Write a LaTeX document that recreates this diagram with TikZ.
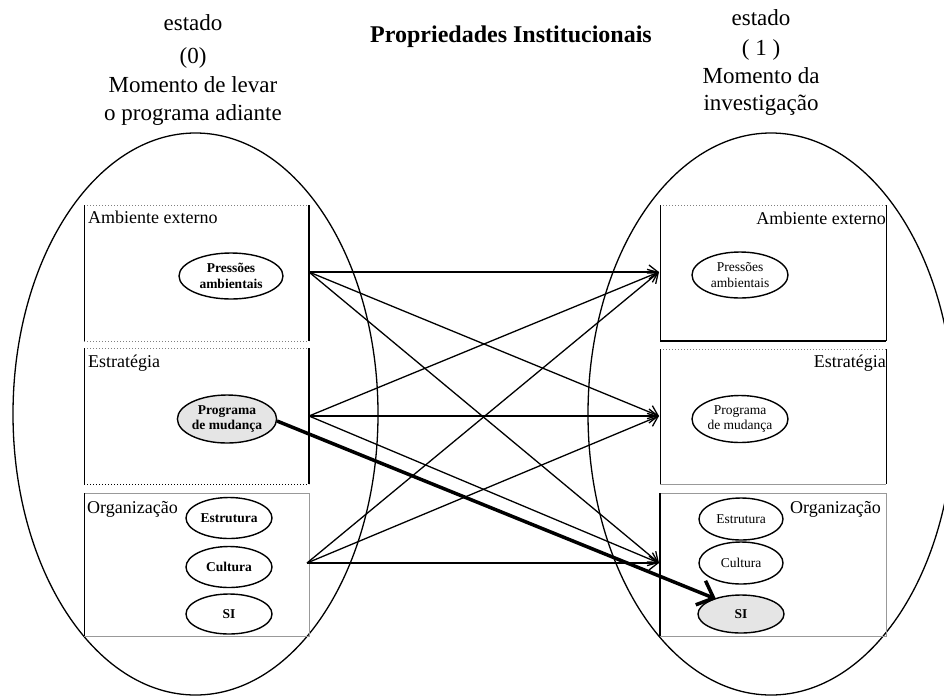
\documentclass[tikz,border=0pt]{standalone}
\usepackage{fontspec}
\setmainfont{Liberation Serif}
\usetikzlibrary{shapes.geometric,arrows.meta}
\begin{document}
\begin{tikzpicture}[x=1pt,y=-1pt,
  big/.style={draw,line width=1.3pt},
  sm/.style={draw,ellipse,line width=1.4pt,inner sep=0pt,align=center,font=\fontsize{13.5}{15.5}\selectfont},
  smb/.style={sm,font=\bfseries\fontsize{13.5}{15.5}\selectfont},
  lbl/.style={font=\fontsize{18}{20}\selectfont,inner sep=0pt},
  head/.style={font=\fontsize{23}{28}\selectfont,inner sep=0pt,anchor=base},
  dotg/.style={draw=gray,dotted,line width=1pt},
  thinb/.style={draw=black,line width=0.8pt},
  thinb2/.style={draw=gray!80,line width=0.8pt},
  thick3/.style={draw=black,line width=2.5pt},
  arr/.style={line width=1.3pt,-{Straight Barb[length=9pt,width=14pt,line width=1.3pt]}},
  bigarr/.style={line width=3.5pt,-{Straight Barb[length=14pt,width=26pt,line width=3.5pt]}}
]
\useasboundingbox (0,0) rectangle (944,697);
\fill[white] (0,0) rectangle (944,697);
% big ellipses
\draw[big] (195.5,414) ellipse [x radius=182.5, y radius=281];
\begin{scope}
\clip (0,0) rectangle (944,697);
\draw[big] (771,414) ellipse [x radius=183, y radius=281];
\end{scope}
% headings
\node[head] (hl1) at (193,30) {estado};
\node[head] (hl2) at (193,63) {(0)};
\node[head] (hl3) at (193,92) {Momento de levar};
\node[head] (hl4) at (193,120) {o programa adiante};
\node[head] (hr1) at (761,25) {estado};
\node[head] (hr2) at (761,55) {( 1 )};
\node[head] (hr3) at (761,83) {Momento da};
\node[head] (hr4) at (761,110) {investigação};
\node[font=\bfseries\fontsize{24}{28}\selectfont,inner sep=0pt,anchor=base] (title) at (511,42) {Propriedades Institucionais};
% left boxes
\draw[dotg] (84,205) -- (309,205);
\draw[thinb] (84,205) -- (84,341);
\draw[thick3] (309,205) -- (309,341);
\draw[dotg] (84,341) -- (309,341);
\draw[dotg] (84,348) -- (309,348);
\draw[thinb] (84,348) -- (84,484);
\draw[thick3] (309,348) -- (309,484);
\draw[draw=black,dotted,line width=1pt] (84,484) -- (309,484);
\draw[thinb2] (84,493) -- (309,493) -- (309,636) -- (84,636);
\draw[thinb] (84,493) -- (84,636);
% right boxes
\draw[dotg] (660,205) -- (886,205);
\draw[thinb] (660,205) -- (660,341);
\draw[thinb] (886,205) -- (886,341);
\draw[thick3] (660,341) -- (886,341);
\draw[dotg] (660,349) -- (886,349);
\draw[thinb] (660,349) -- (660,484);
\draw[thinb] (886,349) -- (886,484);
\draw[thinb2] (660,484) -- (886,484);
\draw[thinb2] (660,493) -- (886,493) -- (886,636) -- (660,636);
\draw[thick3] (660,493) -- (660,636);
% box labels
\node[lbl,anchor=west] (la) at (88,217) {Ambiente externo};
\node[lbl,anchor=west] (le) at (88,363) {Estratégia};
\node[lbl,anchor=west] (lo) at (87,509) {Organização};
\node[lbl,anchor=east] (ra) at (886,218) {Ambiente externo};
\node[lbl,anchor=east] (re) at (886,363) {Estratégia};
\node[lbl,anchor=east] (ro) at (881,509) {Organização};
% small ellipses left
\node[smb,minimum width=104pt,minimum height=46pt] (pl) at (231,276) {Pressões\\ambientais};
\node[smb,minimum width=96pt,minimum height=48pt,fill=gray!20] (gl) at (227,419) {Programa\\de mudança};
\node[smb,minimum width=86pt,minimum height=41pt] (el) at (229,518) {Estrutura};
\node[smb,minimum width=86pt,minimum height=41pt] (cl) at (229,567) {Cultura};
\node[smb,minimum width=86pt,minimum height=40pt] (sl) at (229,614) {SI};
% small ellipses right
\node[sm,minimum width=96pt,minimum height=46pt] (pr) at (740,275) {Pressões\\ambientais};
\node[sm,minimum width=96pt,minimum height=47pt] (gr) at (740,419) {Programa\\de mudança};
\node[sm,minimum width=84pt,minimum height=42pt] (er) at (741,519) {Estrutura};
\node[sm,minimum width=84pt,minimum height=42pt] (cr) at (741,563) {Cultura};
\node[smb,minimum width=86pt,minimum height=38pt,fill=gray!20] (sr) at (741,614) {SI};
% connection points
\coordinate (s1) at (309,272);
\coordinate (s2) at (309,416);
\coordinate (s3) at (307,563);
\coordinate (t1) at (659,272);
\coordinate (t2) at (659,416);
\coordinate (t3) at (659,563);
\foreach \s in {s1,s2,s3}{
  \foreach \t in {t1,t2,t3}{
    \draw[arr] (\s) -- (\t);
  }
}
% thick arrow
\coordinate (ba) at (277,421);
\coordinate (bb) at (716,599);
\draw[bigarr] (ba) -- (bb);
\end{tikzpicture}
\end{document}
